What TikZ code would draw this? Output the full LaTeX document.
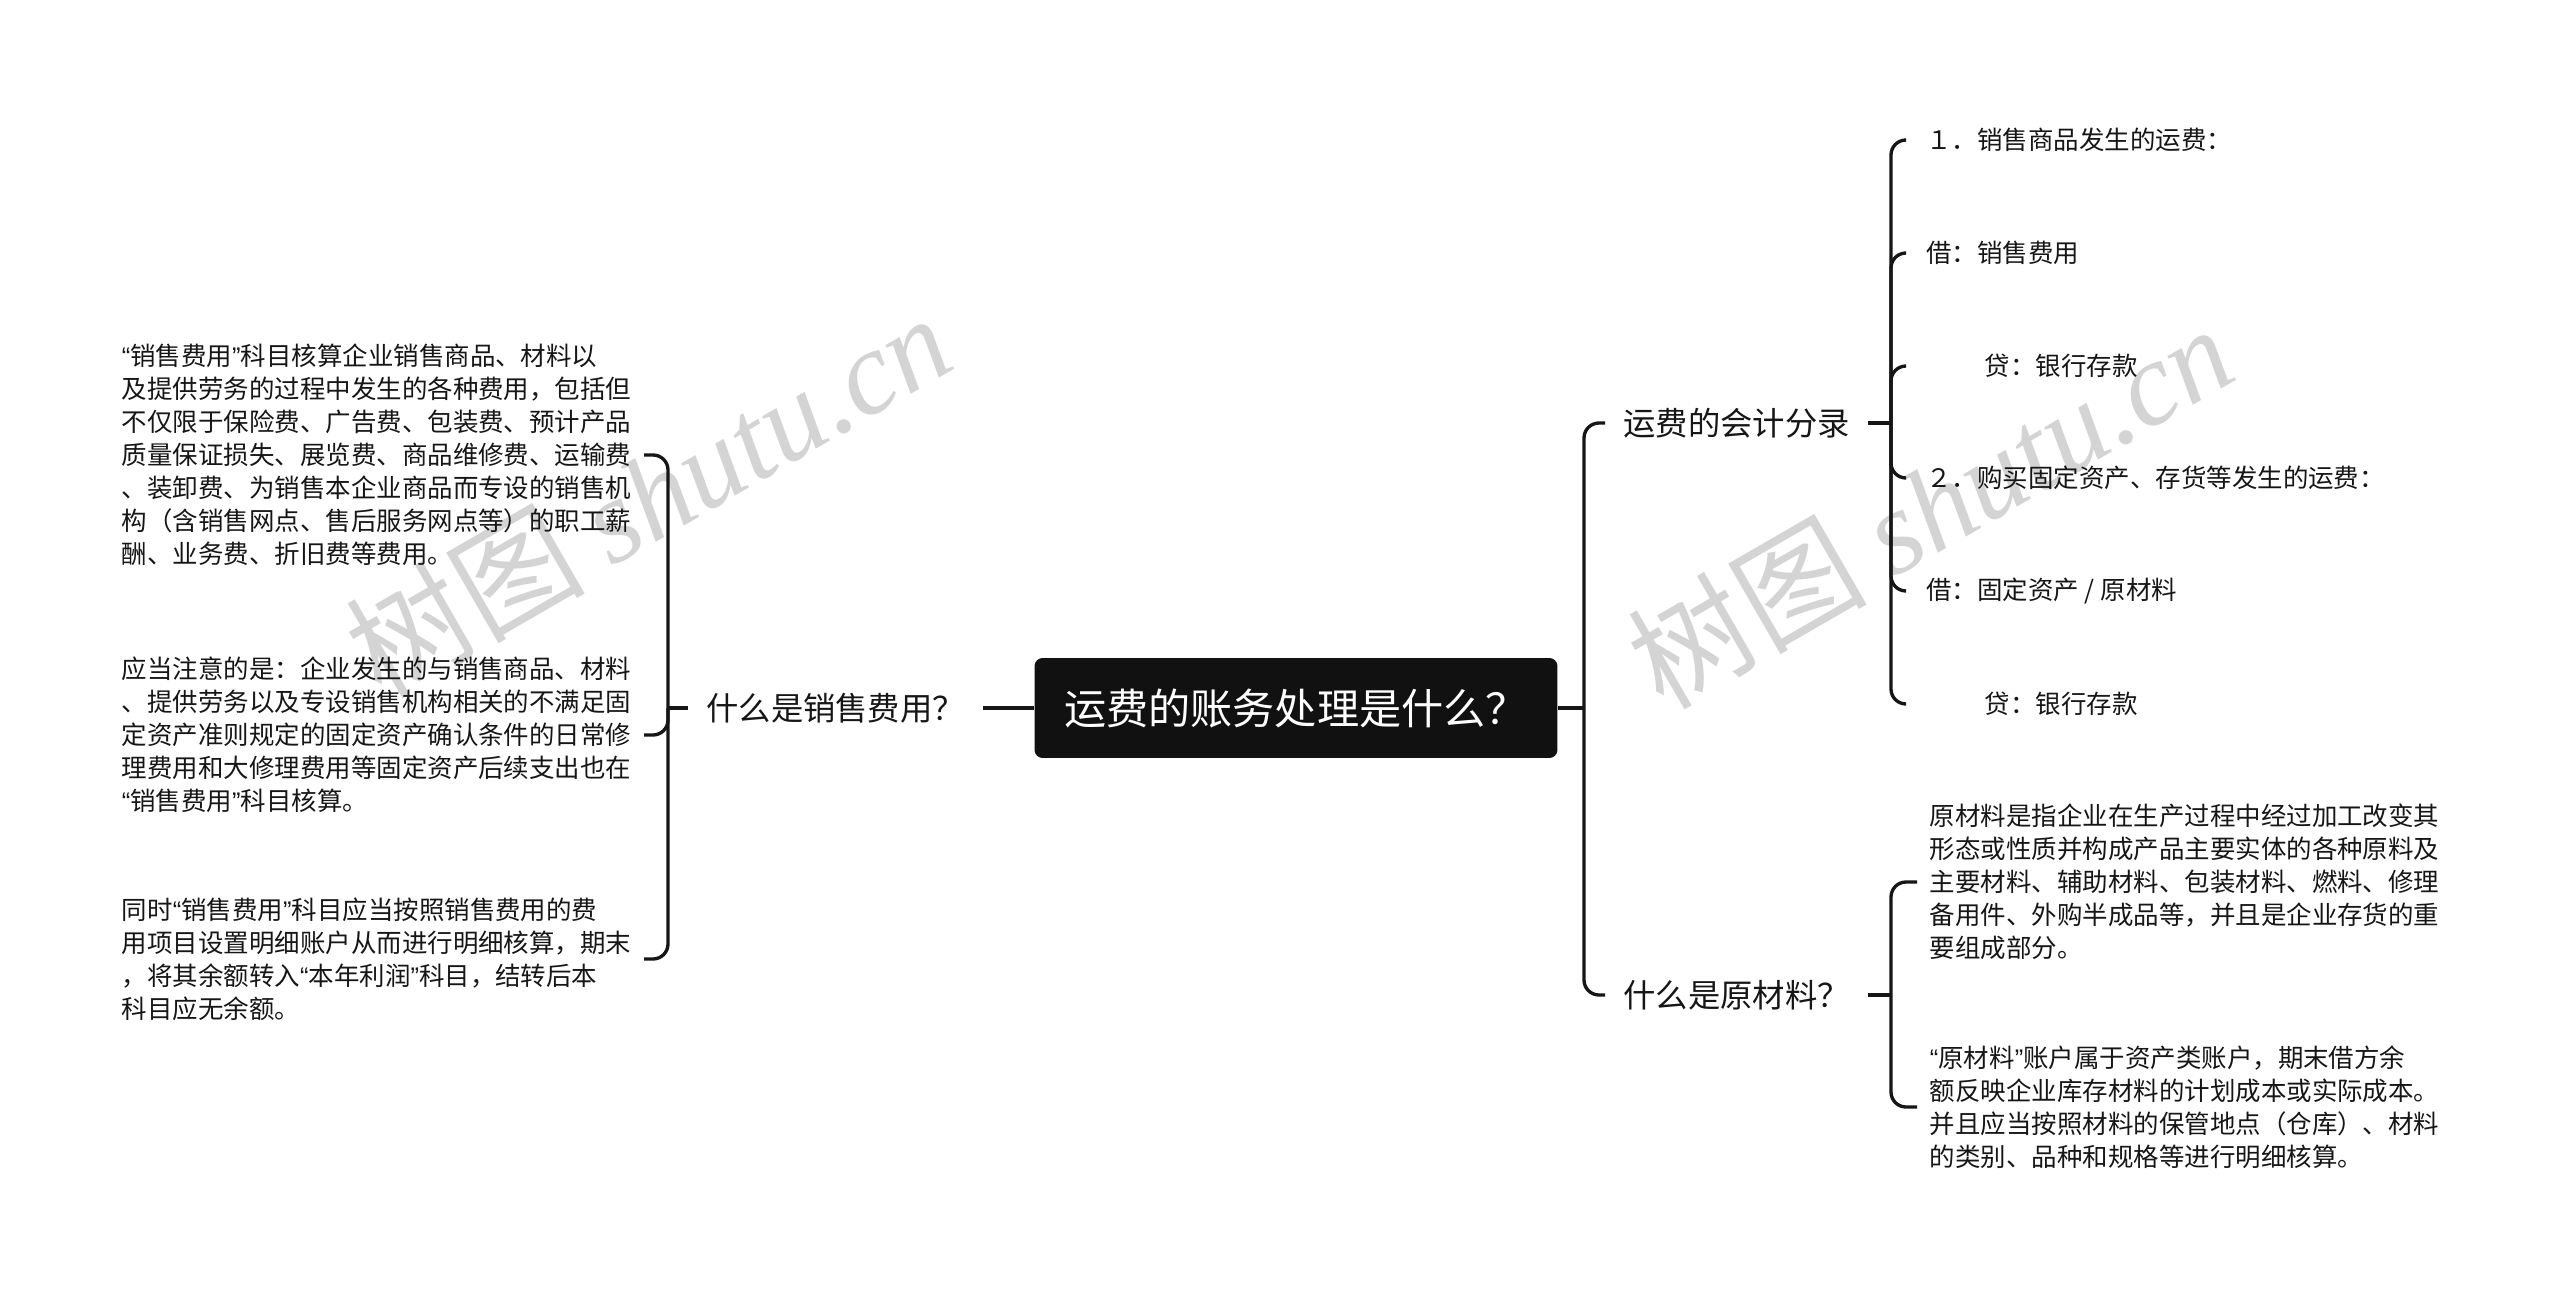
\documentclass[tikz,border=0pt]{standalone}
\usepackage{fontspec}
\setmainfont{Noto Sans CJK SC}
\newfontfamily\wmfont{Liberation Serif}
\newfontfamily\qfont{Liberation Sans}
\newcommand\lqt{{\qfont “}}
\newcommand\rqt{{\qfont ”}}
\definecolor{rootfill}{RGB}{17,17,17}
\definecolor{linecol}{RGB}{22,22,22}
\definecolor{wmgray}{RGB}{212,212,212}
\tikzset{
  conn/.style={draw=linecol,line width=1.9pt,rounded corners=0.3cm},
  topic/.style={anchor=west,inner sep=0.36cm,text=linecol,font=\fontsize{18.4pt}{22pt}\selectfont},
  leaf/.style={anchor=west,inner xsep=0.4cm,text=linecol,font=\fontsize{14.5pt}{18.8pt}\selectfont},
  para/.style={anchor=west,inner xsep=0.25cm,align=left,text=linecol,font=\fontsize{14.5pt}{18.8pt}\selectfont},
  wmark/.style={text=wmgray,rotate=30,font=\fontsize{68pt}{68pt}\selectfont}
}
\begin{document}
\begin{tikzpicture}[x=0.02cm,y=-0.02cm]
  \useasboundingbox (0,0) rectangle (2560,1297);
  % watermarks
  \node[wmark] (wm1) at (648,494) {树图 {\wmfont\itshape shutu.cn}};
  \node[wmark] (wm2) at (1930,505) {树图 {\wmfont\itshape shutu.cn}};

  \node[fill=rootfill,text=white,rounded corners=0.16cm,minimum width=10.46cm,minimum height=2cm,font=\fontsize{24pt}{28pt}\selectfont] (root) at (1296,708) {运费的账务处理是什么？};

  % left: 销售费用
  \node[topic] (xsfy) at (688,708) {什么是销售费用？};
  \coordinate (lj) at (668,708);
  \node[para] (xs1) at (109,455) {\lqt 销售费用\rqt 科目核算企业销售商品、材料以\\
    及提供劳务的过程中发生的各种费用，包括但\\
    不仅限于保险费、广告费、包装费、预计产品\\
    质量保证损失、展览费、商品维修费、运输费\\
    、装卸费、为销售本企业商品而专设的销售机\\
    构（含销售网点、售后服务网点等）的职工薪\\
    酬、业务费、折旧费等费用。};
  \node[para] (xs2) at (109,735) {应当注意的是：企业发生的与销售商品、材料\\
    、提供劳务以及专设销售机构相关的不满足固\\
    定资产准则规定的固定资产确认条件的日常修\\
    理费用和大修理费用等固定资产后续支出也在\\
    \lqt 销售费用\rqt 科目核算。};
  \node[para] (xs3) at (109,959) {同时\lqt 销售费用\rqt 科目应当按照销售费用的费\\
    用项目设置明细账户从而进行明细核算，期末\\
    ，将其余额转入\lqt 本年利润\rqt 科目，结转后本\\
    科目应无余额。};
  \draw[conn] (root) -- (xsfy);
  \draw[conn] (xsfy) -- (lj);
  \foreach \p in {xs1,xs2,xs3}
    \draw[conn] (\p.east) -| (lj);

  % right
  \coordinate (rj) at (1584,708);
  \node[topic] (kjfl) at (1605,423) {运费的会计分录};
  \node[topic] (ycl) at (1605,995) {什么是原材料？};
  \draw[conn] (root) -- (rj);
  \draw[conn] (rj) |- (kjfl);
  \draw[conn] (rj) |- (ycl);

  % 会计分录
  \coordinate (flj) at (1891,423);
  \node[leaf] (fl1) at (1906,140) {１．销售商品发生的运费：};
  \node[leaf] (fl2) at (1906,253) {借：销售费用};
  \node[leaf] (fl3) at (1906,366) {\hspace*{2.3em}贷：银行存款};
  \node[leaf] (fl4) at (1906,478) {２．购买固定资产、存货等发生的运费：};
  \node[leaf] (fl5) at (1906,591) {借：固定资产 / 原材料};
  \node[leaf] (fl6) at (1906,704) {\hspace*{2.3em}贷：银行存款};
  \draw[conn] (kjfl) -- (flj);
  \foreach \n in {1,...,6}
    \draw[conn] (flj) |- (fl\n);

  % 原材料
  \coordinate (ycj) at (1891,995);
  \node[para] (yc1) at (1917,882) {原材料是指企业在生产过程中经过加工改变其\\
    形态或性质并构成产品主要实体的各种原料及\\
    主要材料、辅助材料、包装材料、燃料、修理\\
    备用件、外购半成品等，并且是企业存货的重\\
    要组成部分。};
  \node[para] (yc2) at (1917,1107) {\lqt 原材料\rqt 账户属于资产类账户，期末借方余\\
    额反映企业库存材料的计划成本或实际成本。\\
    并且应当按照材料的保管地点（仓库）、材料\\
    的类别、品种和规格等进行明细核算。};
  \draw[conn] (ycl) -- (ycj);
  \draw[conn] (ycj) |- (yc1);
  \draw[conn] (ycj) |- (yc2);
\end{tikzpicture}
\end{document}
